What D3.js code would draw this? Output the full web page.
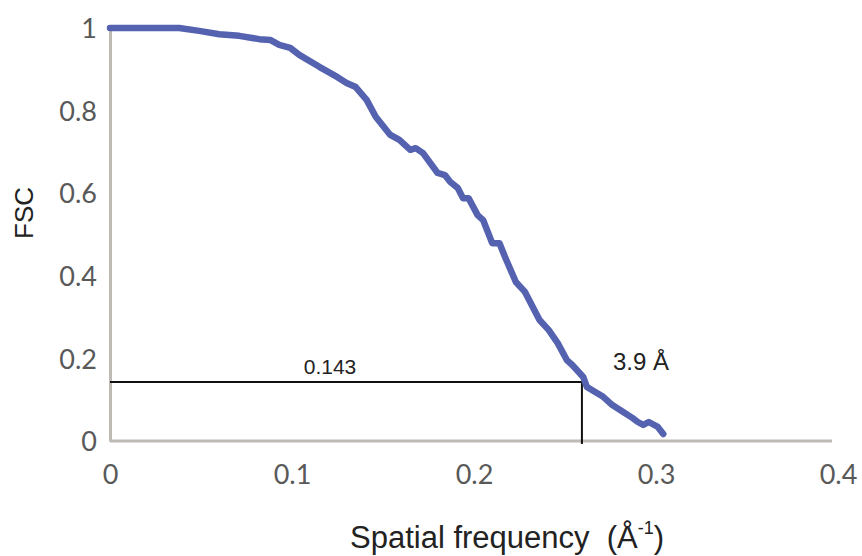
<!DOCTYPE html>
<html>
<head>
<meta charset="utf-8">
<script src="https://cdn.jsdelivr.net/npm/d3@7"></script>
<style>
  body { margin: 0; background: #fff; }
  .tick text { font-family: Lato, "Open Sans", sans-serif; font-size: 27px; fill: #595959; }
  text { white-space: pre; }
</style>
</head>
<body>
<svg id="chart" width="862" height="556"></svg>
<script>
// FSC curve
const freq = [0, 0.038, 0.049, 0.060, 0.071, 0.082, 0.088, 0.093, 0.099, 0.104,
  0.115, 0.125, 0.130, 0.135, 0.141, 0.146, 0.154, 0.159, 0.165, 0.168,
  0.172, 0.180, 0.184, 0.187, 0.191, 0.194, 0.197, 0.202, 0.205, 0.210,
  0.214, 0.217, 0.223, 0.228, 0.236, 0.241, 0.246, 0.251, 0.254, 0.260,
  0.262, 0.265, 0.271, 0.276, 0.282, 0.287, 0.290, 0.293, 0.296, 0.301, 0.304];
const fsc = [1.0, 1.0, 0.993, 0.985, 0.981, 0.973, 0.971, 0.959, 0.952, 0.935,
  0.906, 0.881, 0.867, 0.857, 0.826, 0.785, 0.741, 0.729, 0.705, 0.709,
  0.697, 0.649, 0.644, 0.627, 0.613, 0.588, 0.588, 0.547, 0.535, 0.479,
  0.479, 0.446, 0.385, 0.361, 0.293, 0.269, 0.237, 0.196, 0.184, 0.155,
  0.131, 0.123, 0.107, 0.087, 0.070, 0.056, 0.046, 0.039, 0.046, 0.034, 0.017];

const xTicks = [0, 0.1, 0.2, 0.3, 0.4];
const yTicks = [0, 0.2, 0.4, 0.6, 0.8, 1];
const threshold = 0.143;
const cutoff = 0.2593;   // where the curve meets 0.143 (~3.9 Å)

const svg = d3.select('#chart');
const x = d3.scaleLinear().domain([0, 0.4]).range([110, 838]);
const y = d3.scaleLinear().domain([0, 1]).range([441, 28]);

// axes
const xg = svg.append('g').attr('transform', `translate(0,${y(0)})`)
  .call(d3.axisBottom(x).tickValues(xTicks).tickSize(0).tickPadding(24)
    .tickFormat(d => d === 0 ? '0' : d3.format('.1f')(d)));
xg.select('.domain').attr('stroke', '#bfbab4').attr('stroke-width', 3).attr('d', `M${x(0)},0H832`);

const yg = svg.append('g').attr('transform', `translate(${x(0)},0)`)
  .call(d3.axisLeft(y).tickValues(yTicks).tickSize(0).tickPadding(13)
    .tickFormat(d => (d === 0 || d === 1) ? String(d) : d3.format('.1f')(d)));
yg.select('.domain').attr('stroke', '#bfbab4').attr('stroke-width', 3);
yg.selectAll('.tick text').attr('dy', '0.36em');

// 0.143 threshold marker
svg.append('line')
  .attr('x1', x(0)).attr('x2', x(cutoff)).attr('y1', y(threshold)).attr('y2', y(threshold))
  .attr('stroke', '#111').attr('stroke-width', 2);
svg.append('line')
  .attr('x1', x(cutoff)).attr('x2', x(cutoff)).attr('y1', y(threshold)).attr('y2', y(0) + 3)
  .attr('stroke', '#111').attr('stroke-width', 2);

// curve
const line = d3.line().x((d, i) => x(freq[i])).y(d => y(d));
svg.append('path').datum(fsc)
  .attr('d', line)
  .attr('fill', 'none')
  .attr('stroke', '#5462b0')
  .attr('stroke-width', 6.5)
  .attr('stroke-linejoin', 'round')
  .attr('stroke-linecap', 'round');

// labels
svg.append('text').attr('x', 330).attr('y', 374).attr('text-anchor', 'middle')
  .attr('font-family', 'Arial, Liberation Sans, sans-serif').attr('font-size', 21)
  .attr('fill', '#222').text('0.143');
svg.append('text').attr('x', 613).attr('y', 370)
  .attr('font-family', 'Arial, Liberation Sans, sans-serif').attr('font-size', 24)
  .attr('fill', '#222').text('3.9 Å');

svg.append('text').attr('transform', 'translate(33,213) rotate(-90)').attr('text-anchor', 'middle')
  .attr('font-family', 'Arial, Liberation Sans, sans-serif').attr('font-size', 26)
  .attr('fill', '#222').text('FSC');

const xt = svg.append('text').attr('x', 350).attr('y', 548)
  .attr('font-family', 'Arial, Liberation Sans, sans-serif').attr('font-size', 31)
  .attr('fill', '#222');
xt.append('tspan').text('Spatial frequency  (Å');
xt.append('tspan').attr('font-size', 18).attr('dy', -14).text('-1');
xt.append('tspan').attr('dy', 14).text(')');
</script>
</body>
</html>
